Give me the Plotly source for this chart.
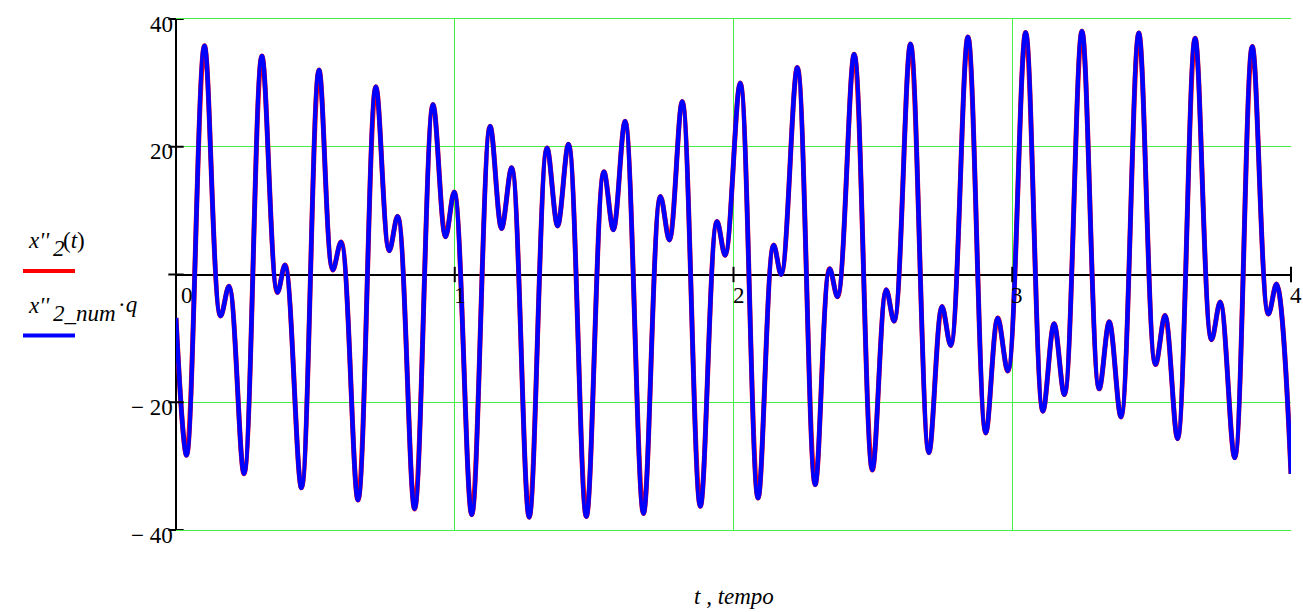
import plotly.graph_objects as go

# time of each read extremum (s) and value of x''2 at that time
t_pts = [0.000, 0.038, 0.102, 0.160, 0.190, 0.244, 0.308, 0.364, 0.391, 0.450,
         0.513, 0.5625, 0.592, 0.653, 0.717, 0.765, 0.795, 0.856, 0.922, 0.967,
         0.998, 1.061, 1.127, 1.168, 1.204, 1.267, 1.331, 1.369, 1.408, 1.472,
         1.535, 1.569, 1.611, 1.677, 1.738, 1.770, 1.816, 1.881, 1.941, 1.970,
         2.024, 2.088, 2.144, 2.171, 2.229, 2.293, 2.345, 2.373, 2.433, 2.498,
         2.548, 2.576, 2.635, 2.701, 2.748, 2.779, 2.841, 2.905, 2.948, 2.984,
         3.048, 3.110, 3.150, 3.187, 3.250, 3.312, 3.348, 3.390, 3.454, 3.514,
         3.548, 3.593, 3.656, 3.715, 3.746, 3.798, 3.861, 3.919, 3.948, 4.000]
x2_vals = [-6.8, -28.3, 35.8, -6.5, -1.85, -31.2, 34.2, -2.8, 1.5, -33.4,
           32.0, 0.7, 5.1, -35.3, 29.4, 3.7, 9.1, -36.7, 26.6, 5.9,
           12.9, -37.6, 23.2, 7.2, 16.7, -38.0, 19.8, 7.6, 20.4, -37.9,
           16.1, 7.0, 24.0, -37.4, 12.2, 5.4, 27.1, -36.3, 8.3, 3.0,
           30.0, -35.0, 4.6, 0.0, 32.4, -32.9, 0.9, -3.5, 34.5, -30.6,
           -2.4, -7.3, 36.1, -27.9, -5.0, -11.1, 37.2, -24.8, -6.8, -15.1,
           37.9, -21.4, -7.7, -18.8, 38.1, -17.9, -7.4, -22.3, 37.8, -14.1,
           -6.4, -25.7, 37.0, -10.2, -4.3, -28.7, 35.7, -6.2, -1.5, -31.2]
x2_num_vals = list(x2_vals)

x_ticks = [0, 1, 2, 3, 4]
x_tick_labels = ["0", "1", "2", "3", "4"]
y_ticks = [40, 20, -20, -40]
y_tick_labels = ["40", "20", "\u2212 20", "\u2212 40"]

FONT = "Liberation Serif, Times New Roman, serif"
GREEN = "#44ee44"
TXT = dict(family=FONT, size=23, color="black")

fig = go.Figure()
fig.add_trace(go.Scatter(x=t_pts, y=x2_vals, mode="lines",
                         line=dict(color="#ff0000", width=5, shape="spline", smoothing=1.0),
                         showlegend=False, hoverinfo="skip"))
fig.add_trace(go.Scatter(x=t_pts, y=x2_num_vals, mode="lines",
                         line=dict(color="#0000ff", width=4.5, shape="spline", smoothing=1.0),
                         showlegend=False, hoverinfo="skip"))
# axis tick marks
fig.add_trace(go.Scatter(x=[0] * (len(y_ticks) + 1), y=y_ticks + [0], mode="markers",
                         marker=dict(symbol="line-ew", size=11, line=dict(width=2, color="black")),
                         cliponaxis=False, showlegend=False, hoverinfo="skip"))
fig.add_trace(go.Scatter(x=x_ticks[1:], y=[0] * (len(x_ticks) - 1), mode="markers",
                         marker=dict(symbol="line-ns", size=11, line=dict(width=2, color="black")),
                         cliponaxis=False, showlegend=False, hoverinfo="skip"))

annotations = []
for v, lab in zip(y_ticks, y_tick_labels):
    annotations.append(dict(x=0, y=v, xref="x", yref="y", text=lab, showarrow=False,
                            xanchor="right", yanchor="middle", xshift=-1, yshift=-5, font=TXT))
for v, lab in zip(x_ticks, x_tick_labels):
    annotations.append(dict(x=v, y=0, xref="x", yref="y", text=lab, showarrow=False,
                            xanchor="left", yanchor="middle", xshift=3 if v == 0 else -3,
                            yshift=-21, font=TXT))


def legend_piece(text, px, dy):
    # px: left edge in pixels relative to plot left edge; dy: pixels above plot mid-height
    return dict(x=0, y=0.5, xref="paper", yref="paper", text=text, showarrow=False,
                xanchor="left", yanchor="middle", xshift=px, yshift=dy, font=TXT)


annotations += [
    legend_piece("<i>x''</i>", -150, 34),
    legend_piece("<i>2</i>", -125, 26),
    legend_piece("(<i>t</i>)", -115, 34),
    legend_piece("<i>x''</i>", -150, -31),
    legend_piece("<i>2_num</i>", -125, -39),
    legend_piece("\u00b7<i>q</i>", -60, -30),
]
annotations.append(dict(x=0.5, y=0, xref="paper", yref="paper",
                        text="<i>t , tempo</i>", showarrow=False,
                        xanchor="center", yanchor="middle", yshift=-66, font=TXT))

shapes = [
    dict(type="line", xref="paper", yref="paper", xsizemode="pixel", ysizemode="pixel",
         xanchor=0, yanchor=0.5, x0=-153, x1=-101, y0=3.5, y1=3.5,
         line=dict(color="#ff0000", width=4)),
    dict(type="line", xref="paper", yref="paper", xsizemode="pixel", ysizemode="pixel",
         xanchor=0, yanchor=0.5, x0=-153, x1=-101, y0=-61, y1=-61,
         line=dict(color="#0000ff", width=4)),
]

fig.update_layout(
    width=1303, height=612,
    margin=dict(l=176, r=12, t=19, b=82),
    paper_bgcolor="white", plot_bgcolor="white",
    showlegend=False,
    annotations=annotations, shapes=shapes,
    xaxis=dict(range=[0, 4], tickvals=x_ticks[1:], showticklabels=False, ticks="",
               showgrid=True, gridcolor=GREEN, gridwidth=1,
               zeroline=True, zerolinecolor="black", zerolinewidth=2,
               showline=True, linecolor=GREEN, linewidth=1, mirror=True,
               fixedrange=True),
    yaxis=dict(range=[-40, 40], tickvals=y_ticks, showticklabels=False, ticks="",
               showgrid=True, gridcolor=GREEN, gridwidth=1,
               zeroline=True, zerolinecolor="black", zerolinewidth=2,
               showline=False, fixedrange=True),
)

fig.write_html("out.html")
